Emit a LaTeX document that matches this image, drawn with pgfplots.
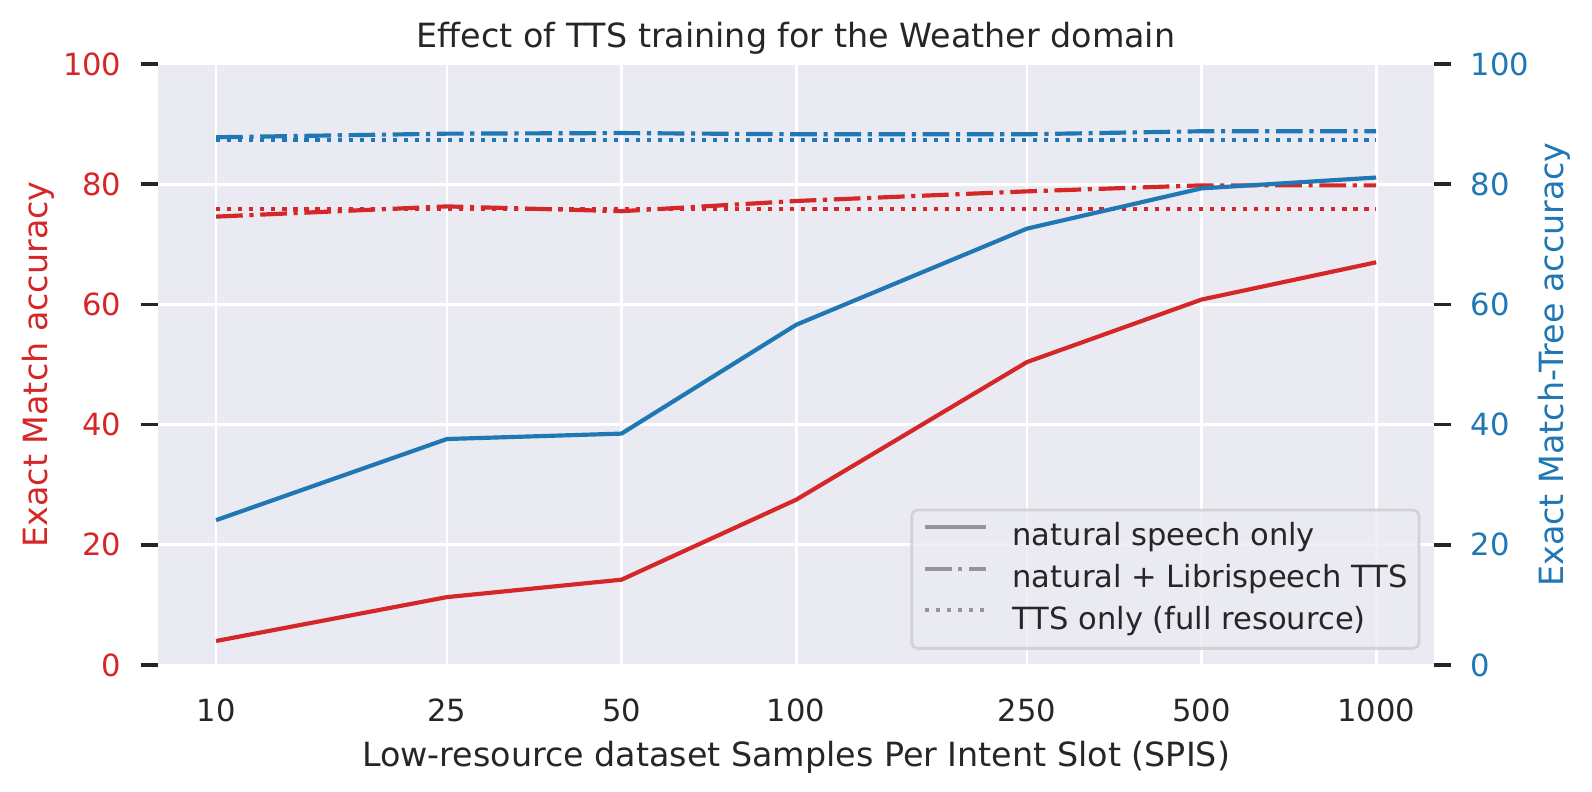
\documentclass[border=0pt]{standalone}
\usepackage{pgfplots}
\pgfplotsset{compat=1.18}
\usepackage{fontspec}
\setmainfont{DejaVu Sans}
\definecolor{cred}{HTML}{D62728}
\definecolor{cblue}{HTML}{1F77B4}
\definecolor{bgc}{HTML}{EAEAF2}
\definecolor{txt}{HTML}{262626}
\definecolor{legedge}{HTML}{CCCCCC}
\definecolor{leggray}{HTML}{808080}
\tikzset{
  mdashdot/.style={dash pattern=on 9.6pt off 2.4pt on 1.5pt off 2.4pt},
  mdot/.style={dash pattern=on 1.5pt off 2.475pt},
}
\pgfplotstableread{
x    rs    rd    rt    bs    bd    bt
10   4.0   74.6  75.8  24.1  87.8  87.3
25   11.3  76.3  75.8  37.6  88.4  87.3
50   14.2  75.5  75.8  38.5  88.5  87.3
100  27.5  77.2  75.8  56.6  88.3  87.3
250  50.4  78.8  75.8  72.6  88.3  87.3
500  60.8  79.8  75.8  79.3  88.8  87.3
1000 67.0  79.8  75.8  81.1  88.8  87.3
}\datatab
\begin{document}
\begin{tikzpicture}
\useasboundingbox (0,0) rectangle (573.12pt,285.12pt);
\begin{axis}[name=ax1,
  scale only axis, width=459.4pt, height=216.4pt,
  at={(56.9pt,45.7pt)}, anchor=south west,
  xmode=log, xmin=7.9433, xmax=1258.93,
  ymin=0, ymax=100,
  xtick={10,25,50,100,250,500,1000},
  xticklabels={10,25,50,100,250,500,1000},
  ytick={0,20,40,60,80,100},
  yticklabels={0,20,40,60,80,100},
  minor tick num=0,
  tick align=outside,
  major tick length=6pt,
  ticklabel style={font=\fontsize{11}{13}\selectfont},
  axis line style={draw=none},
  axis background/.style={fill=bgc},
  grid=major, major grid style={white, line width=1pt},
  xtick style={draw=none},
  ytick style={txt, line width=1.25pt},
  ytick pos=left,
  xticklabel style={text=txt, anchor=base, inner sep=0pt, yshift=-14.4pt},
  yticklabel style={text=cred, anchor=east, inner sep=0pt, xshift=-7pt},
  ]
\addplot[cred, line width=1.5pt, no marks] table[x=x, y=rs] {\datatab};
\addplot[cred, line width=1.5pt, no marks, mdashdot] table[x=x, y=rd] {\datatab};
\addplot[cred, line width=1.5pt, no marks, mdot] table[x=x, y=rt] {\datatab};
\end{axis}
\begin{axis}[
  scale only axis, width=459.4pt, height=216.4pt,
  at={(56.9pt,45.7pt)}, anchor=south west,
  xmode=log, xmin=7.9433, xmax=1258.93,
  ymin=0, ymax=100,
  xtick=\empty,
  ytick={0,20,40,60,80,100},
  yticklabels={0,20,40,60,80,100},
  minor tick num=0,
  tick align=outside,
  major tick length=6pt,
  ticklabel style={font=\fontsize{11}{13}\selectfont},
  axis line style={draw=none},
  ytick style={txt, line width=1.25pt},
  ytick pos=right, yticklabel pos=right,
  yticklabel style={text=cblue, anchor=west, inner sep=0pt, xshift=7pt},
  legend style={at={(rel axis cs:1,0)}, anchor=south east, xshift=-5pt, yshift=5.5pt,
    fill=bgc, fill opacity=0.8, draw opacity=0.8, text opacity=1, draw=legedge,
    line width=1pt, rounded corners=2pt,
    font=\fontsize{11}{13}\selectfont, text=txt,
    inner xsep=4pt, inner ysep=4.4pt,
    nodes={inner sep=0pt, text height=8.5pt, text depth=2.5pt},
    row sep=4pt, column sep=8.8pt},
  legend cell align=left,
  legend image code/.code={\draw[#1] (0pt,3.8pt) -- (22pt,3.8pt);},
  ]
\addplot[cblue, line width=1.5pt, no marks, forget plot] table[x=x, y=bs] {\datatab};
\addplot[cblue, line width=1.5pt, no marks, mdashdot, forget plot] table[x=x, y=bd] {\datatab};
\addplot[cblue, line width=1.5pt, no marks, mdot, forget plot] table[x=x, y=bt] {\datatab};
\addlegendimage{leggray, line width=1.5pt, solid}
\addlegendentry{natural speech only}
\addlegendimage{leggray, line width=1.5pt, mdashdot}
\addlegendentry{natural + Librispeech TTS}
\addlegendimage{leggray, line width=1.5pt, mdot}
\addlegendentry{TTS only (full resource)}
\end{axis}
\node[anchor=base, text=txt, font=\fontsize{12}{14}\selectfont] at ([yshift=6pt]ax1.north) {Effect of TTS training for the Weather domain};
\node[anchor=base, text=txt, font=\fontsize{12}{14}\selectfont] at ([yshift=-36.4pt]ax1.south) {Low-resource dataset Samples Per Intent Slot (SPIS)};
\node[rotate=90, anchor=center, text=cred, font=\fontsize{12}{14}\selectfont] at ([xshift=-43.2pt]ax1.west) {Exact Match accuracy};
\node[rotate=90, anchor=center, text=cblue, font=\fontsize{12}{14}\selectfont] at ([xshift=43.3pt]ax1.east) {Exact Match-Tree accuracy};
\end{tikzpicture}
\end{document}
